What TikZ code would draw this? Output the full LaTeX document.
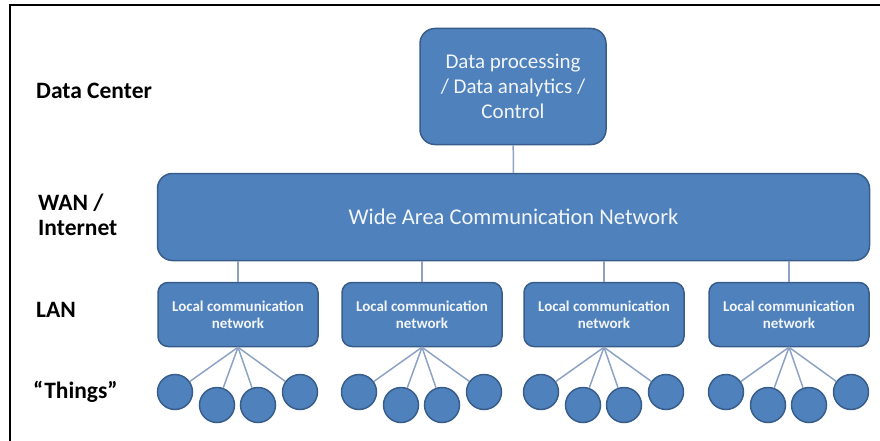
\documentclass[tikz,border=0pt]{standalone}
\usepackage{fontspec}
\setmainfont{Carlito}

\definecolor{boxblue}{HTML}{4F81BD}
\definecolor{boxedge}{HTML}{385D8A}
\definecolor{wiregray}{HTML}{8EA3C4}
\definecolor{boxtext}{HTML}{F2F5FA}

\tikzset{
  blk/.style={draw=boxedge, line width=1.5pt, fill=boxblue, text=boxtext,
    rounded corners=15pt, align=center, inner sep=0pt},
  thing/.style={circle, draw=boxedge, line width=1.5pt, fill=boxblue,
    minimum size=35pt, inner sep=0pt},
  tier/.style={anchor=west, inner sep=0pt, align=left,
    font=\fontsize{23.5}{25}\selectfont\bfseries},
  wire/.style={draw=wiregray, line width=1.5pt}
}

\begin{document}
\begin{tikzpicture}[x=1pt,y=-1pt]
    \useasboundingbox (0,0) rectangle (880,441);
    \draw [line width=2.5pt] (10,441) -- (10,5) -- (880,5);

    % tier labels
    \node [tier] (DC)  at (36,91)  {Data Center};
    \node [tier] (WAN) at (38,215) {WAN /\\Internet};
    \node [tier] (LAN) at (36,310) {LAN};
    \node [tier] (THG) at (33,392) {“Things”};

    \node [blk, minimum width=186pt, minimum height=116pt,
      font=\fontsize{21}{25}\selectfont] (PROC) at (513,86.5)
      {Data processing\\/ Data analytics /\\Control};
    \node [blk, minimum width=712pt, minimum height=87pt,
      font=\fontsize{22.5}{26}\selectfont] (WANNET) at (513.5,217)
      {Wide Area Communication Network};

    \draw [wire] (PROC) -- (WANNET);

    \foreach \i/\x in {1/238,2/422,3/604,4/789} {
      \node [blk, rounded corners=10pt, minimum width=160pt, minimum height=64pt,
        font=\fontsize{15}{17}\selectfont\bfseries] (LAN\i) at (\x,314.5)
        {Local communication\\network};
      \draw [wire] (LAN\i.north |- WANNET.south) -- (LAN\i.north);
      \foreach \dx/\y [count=\k] in {-63/392,-21/405,20/405,62/392} {
        \node [thing] (T\i\k) at ({\x+\dx},\y) {};
        \draw [wire] (LAN\i.south) -- (T\i\k);
      }
    }
\end{tikzpicture}
\end{document}
